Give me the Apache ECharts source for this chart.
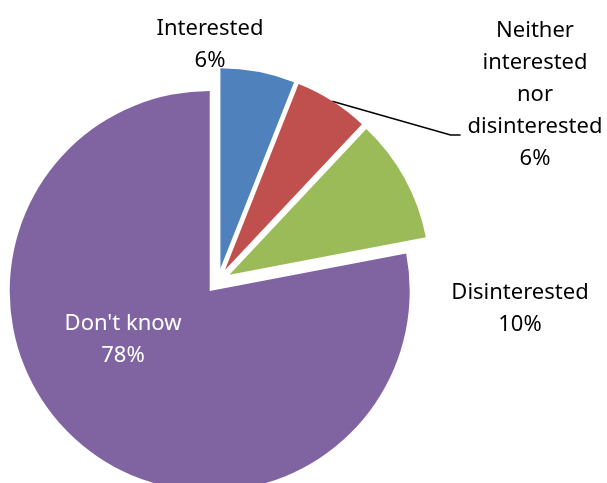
<!DOCTYPE html>
<html>
<head>
<meta charset="utf-8">
<script src="https://cdn.jsdelivr.net/npm/echarts@6/dist/echarts.min.js"></script>
<style>
  html, body { margin: 0; padding: 0; background: #fff; }
  #chart { width: 607px; height: 483px; }
</style>
</head>
<body>
<div id="chart"></div>
<script>
// data
const categories = ['Interested', 'Neither\ninterested\nnor\ndisinterested', 'Disinterested', "Don't know"];
const values = [6, 6, 10, 78];
const colors = ['#4F81BD', '#C0504D', '#9BBB59', '#8064A2'];

// centre of each label's text block
const labelPos = [[210, 45], [535, 95], [520, 309], [123, 340]];

const pieCenter = [218, 281];
const explode = 13;
const total = values.reduce((a, b) => a + b, 0);

let myChart = echarts.init(document.getElementById('chart'));

// one series per slice, each pushed out along its own bisector
let cum = 0;
const series = values.map((v, i) => {
  const mid = (90 - (cum + v / 2) / total * 360) * Math.PI / 180;
  cum += v;
  const center = [pieCenter[0] + Math.cos(mid) * explode, pieCenter[1] - Math.sin(mid) * explode];
  return {
    type: 'pie',
    center: center,
    radius: 200,
    startAngle: 90,
    clockwise: true,
    avoidLabelOverlap: false,
    emphasis: { disabled: true },
    label: {
      show: false,
      position: i === 3 ? 'inside' : 'outside',
      fontFamily: 'Noto Sans',
      fontSize: 22,
      lineHeight: 32,
      color: i === 3 ? '#fff' : '#000',
      align: 'center',
      formatter: p => p.name + '\n' + p.value + '%'
    },
    labelLine: { show: false, lineStyle: { color: '#000', width: 1.5 } },
    labelLayout: function (params) {
      if (params.dataIndex !== i) return {};
      const x = labelPos[i][0], y = labelPos[i][1];
      const res = { x: x, y: y, align: 'center', verticalAlign: 'middle' };
      if (params.labelLinePoints) {
        const w = params.labelRect.width, h = params.labelRect.height;
        const left = x - w / 2;
        const ly = y - h / 2 + h * 0.75;
        res.labelLinePoints = [params.labelLinePoints[0], [left - 17, ly], [left - 7, ly]];
      }
      return res;
    },
    data: values.map((val, j) => {
      const own = j === i;
      return {
        name: categories[j],
        value: val,
        itemStyle: { color: own ? colors[j] : 'rgba(0,0,0,0)' },
        label: { show: own },
        labelLine: { show: own && j === 1 }
      };
    })
  };
});

myChart.setOption({ animation: false, series: series });
</script>
</body>
</html>
